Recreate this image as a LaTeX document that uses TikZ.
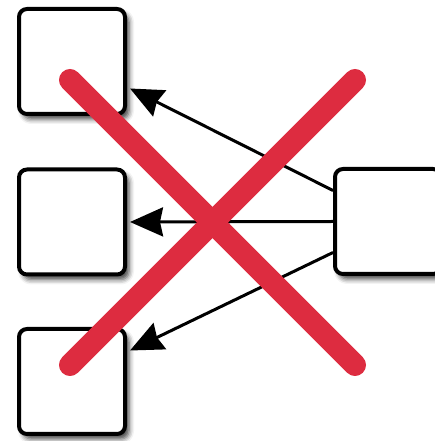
\documentclass[tikz,border=0pt]{standalone}
\usetikzlibrary{arrows.meta,shadows.blur}
\definecolor{crossred}{RGB}{221,44,64}
\tikzset{card/.style = {draw, line width=4pt, rounded corners=8pt, fill=white,
    minimum width=106pt, minimum height=105pt, inner sep=0pt,
    blur shadow={shadow xshift=4pt, shadow yshift=-5pt, shadow blur radius=5pt, shadow opacity=75}},
  link/.style = {line width=3pt, -{Stealth[length=33pt,width=29pt,inset=3pt]}},
  cross/.style = {line width=22pt, line cap=round, crossred}}

\begin{document}
\begin{tikzpicture}[x=1pt, y=1pt]
      \useasboundingbox (0,0) rectangle (435,441);
      \clip (0,0) rectangle (435,441);
      \node[card] (top) at (72,379.5) {};
      \node[card] (mid) at (72,219) {};
      \node[card] (bot) at (72,59.5) {};
      \node[card] (src) at (388,219.5) {};
      % fan out from the right box
      \draw[link] ([yshift=31pt]src.west) -- ([xshift=3pt,yshift=-27pt]top.east);
      \draw[link] (src.west) -- ([xshift=3pt]mid.east);
      \draw[link] ([yshift=-31pt]src.west) -- ([xshift=3pt,yshift=31pt]bot.east);
      % struck out
      \draw[cross] (70,361) -- (355,76);
      \draw[cross] (355,361) -- (70,76);
    \end{tikzpicture}
\end{document}
